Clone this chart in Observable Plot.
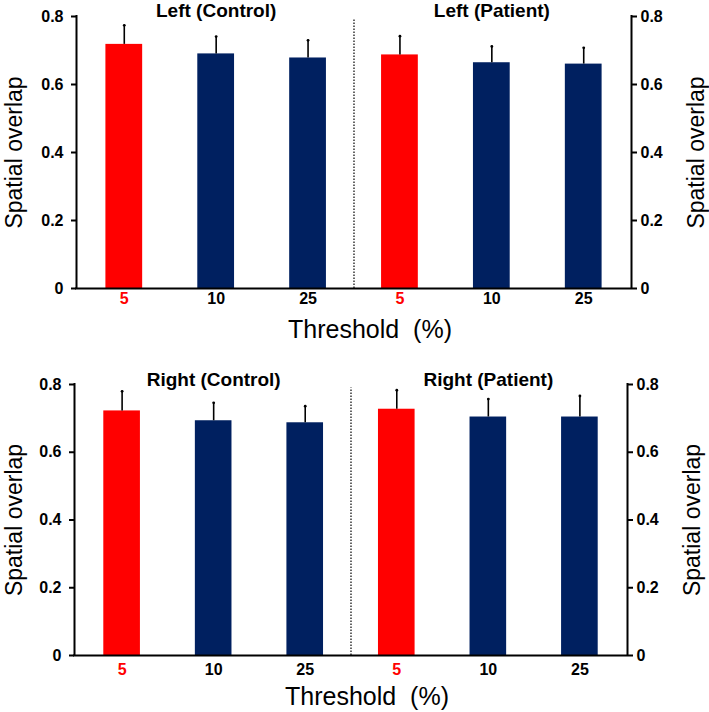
<!DOCTYPE html>
<html>
<head>
<meta charset="utf-8">
<script src="https://cdn.jsdelivr.net/npm/d3@7"></script>
<script src="https://cdn.jsdelivr.net/npm/@observablehq/plot@0.6"></script>
<style>
  html, body { margin: 0; padding: 0; background: #ffffff; }
  #chart { width: 709px; }
  #chart svg { display: block; }
</style>
</head>
<body>
<div id="chart"></div>
<script>
// ---- data ----
const thresholds = ["5", "10", "25", "5", "10", "25"];
const groups = ["Control", "Control", "Control", "Patient", "Patient", "Patient"];
const leftTitles = ["Left (Control)", "Left (Patient)"];
const rightTitles = ["Right (Control)", "Right (Patient)"];
const leftMeans = [0.718, 0.690, 0.678, 0.687, 0.664, 0.660];
const leftErrors = [0.056, 0.051, 0.052, 0.055, 0.048, 0.048];
const rightMeans = [0.722, 0.693, 0.687, 0.727, 0.704, 0.704];
const rightErrors = [0.058, 0.053, 0.049, 0.056, 0.053, 0.062];
const yTicks = [0, 0.2, 0.4, 0.6, 0.8];
const yLabel = "Spatial overlap";
const xLabel = "Threshold\u00a0\u00a0(%)";
const separatorTop = 0.79;

const RED = "#ff0000";
const NAVY = "#002060";
const FONT = "'Liberation Sans', Arial, Helvetica, sans-serif";

function panel(titles, means, errors, layout) {
  const rows = means.map((m, i) => ({
    i, threshold: thresholds[i], group: groups[i], mean: m, top: m + errors[i]
  }));
  const titleRows = titles.map((t, g) => ({title: t, i: g * 3 + 1}));
  const idx = rows.map(d => d.i);
  const redIdx = idx.filter(i => thresholds[i] === "5");
  const blackIdx = idx.filter(i => thresholds[i] !== "5");
  const xDomain = [-0.52, thresholds.length - 1 + 0.52];
  const yFmt = d => d === 0 ? "0" : d.toFixed(1);
  const half = 0.2;
  const sep = (thresholds.length - 1) / 2;

  return Plot.plot({
    width: 709,
    height: layout.height,
    marginLeft: layout.ml,
    marginRight: layout.mr,
    marginTop: layout.mt,
    marginBottom: layout.mb,
    x: {domain: xDomain, axis: null},
    y: {domain: [0, 0.8], axis: null},
    color: {domain: ["5", "10", "25"], range: [RED, NAVY, NAVY]},
    style: {fontFamily: FONT, background: "#ffffff", color: "#000000", overflow: "visible"},
    marks: [
      Plot.rectY(rows, {x1: d => d.i - half, x2: d => d.i + half, y: "mean", fill: "threshold"}),
      Plot.ruleX(rows, {x: "i", y1: "mean", y2: "top", stroke: "#000", strokeWidth: 1.6}),
      Plot.dot(rows, {x: "i", y: "top", r: 1.4, fill: "#000"}),
      Plot.ruleX([sep], {y1: 0, y2: separatorTop, stroke: "#000", strokeWidth: 1.2, strokeDasharray: "1.5,1.5"}),
      Plot.ruleX(xDomain, {stroke: "#000", strokeWidth: 2, strokeLinecap: "square"}),
      Plot.ruleY([0], {stroke: "#000", strokeWidth: 2, strokeLinecap: "square"}),
      Plot.axisY({anchor: "left", ticks: yTicks, tickFormat: yFmt, tickSize: 5, tickPadding: 8,
        fontSize: 16, fontWeight: "bold", strokeWidth: 2, label: null}),
      Plot.axisY({anchor: "right", ticks: yTicks, tickFormat: yFmt, tickSize: 5, tickPadding: 4,
        fontSize: 16, fontWeight: "bold", strokeWidth: 2, label: null}),
      Plot.axisX({ticks: redIdx, tickFormat: i => thresholds[i], tickSize: 0, tickPadding: layout.xpad,
        fontSize: 16, fontWeight: "bold", fill: RED, label: null}),
      Plot.axisX({ticks: blackIdx, tickFormat: i => thresholds[i], tickSize: 0, tickPadding: layout.xpad,
        fontSize: 16, fontWeight: "bold", fill: "#000", label: null}),
      Plot.text(titleRows, {x: "i", text: "title", frameAnchor: "top", lineAnchor: "bottom", dy: layout.tdy,
        fontSize: 19, fontWeight: "bold", fill: "#000"}),
      Plot.text([yLabel], {frameAnchor: "left", rotate: -90, dx: layout.ldx, fontSize: 23, fill: "#000", textAnchor: "middle", lineAnchor: "middle"}),
      Plot.text([yLabel], {frameAnchor: "right", rotate: -90, dx: 65, fontSize: 23, fill: "#000", textAnchor: "middle", lineAnchor: "middle"}),
      Plot.text([xLabel], {frameAnchor: "bottom", dx: 16, dy: 41, fontSize: 25, fill: "#000", lineAnchor: "middle"})
    ]
  });
}

const chart = document.getElementById("chart");
chart.appendChild(panel(leftTitles, leftMeans, leftErrors,
  {height: 350, ml: 76, mr: 78, mt: 16, mb: 62, xpad: 4, tdy: 0, ldx: -62}));
chart.appendChild(panel(rightTitles, rightMeans, rightErrors,
  {height: 362, ml: 74, mr: 82, mt: 34, mb: 57, xpad: 8, tdy: 1, ldx: -60}));
</script>
</body>
</html>
